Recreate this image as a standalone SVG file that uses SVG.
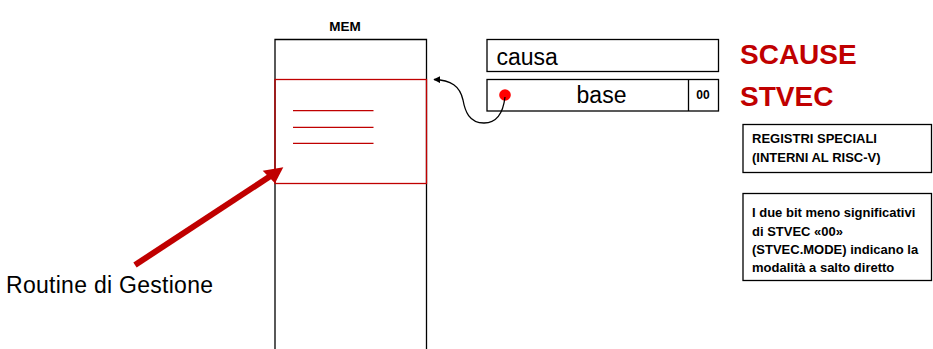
<svg xmlns="http://www.w3.org/2000/svg" width="933" height="349" viewBox="0 0 933 349">
  <style>
    .box { fill: #ffffff; stroke: #000000; stroke-width: 1.3; }
    .red { fill: none; stroke: #c00000; stroke-width: 1.3; }
    .sans { font-family: "Liberation Sans", Arial, sans-serif; }
    .reg { font-size: 23px; fill: #000000; }
    .title { font-size: 28px; font-weight: bold; fill: #c00000; }
    .note { font-size: 13px; font-weight: bold; fill: #000000; }
  </style>
  <defs>
    <marker id="headBlack" viewBox="0 0 10 10" refX="9" refY="5" markerWidth="7" markerHeight="7" orient="auto" markerUnits="userSpaceOnUse">
      <path d="M0,0 L10,5 L0,10 z" fill="#000000"/>
    </marker>
  </defs>

  <rect width="933" height="349" fill="#ffffff"/>

  <!-- memory column -->
  <g id="mem">
    <text class="sans" x="345" y="30.5" font-size="13.5" font-weight="bold" text-anchor="middle">MEM</text>
    <path d="M275,352 L275,39.5 L426.5,39.5 L426.5,352" fill="#ffffff" stroke="#000000" stroke-width="1.3"/>
    <rect class="red" x="275" y="79.5" width="151.5" height="104"/>
    <line class="red" x1="293" y1="110.7" x2="373.5" y2="110.7"/>
    <line class="red" x1="293" y1="127.3" x2="373.5" y2="127.3"/>
    <line class="red" x1="293" y1="143.3" x2="373.5" y2="143.3"/>
  </g>

  <!-- SCAUSE register -->
  <g id="scause">
    <rect class="box" x="487" y="39.5" width="231.5" height="32"/>
    <text class="sans reg" x="496.5" y="65">causa</text>
    <text class="sans title" x="740" y="63.5">SCAUSE</text>
  </g>

  <!-- STVEC register -->
  <g id="stvec">
    <rect class="box" x="487" y="79.5" width="231.5" height="31.5"/>
    <line x1="688.5" y1="79.5" x2="688.5" y2="111" stroke="#000000" stroke-width="1.3"/>
    <text class="sans reg" x="601.5" y="102.5" text-anchor="middle">base</text>
    <text class="sans" x="703" y="98.5" font-size="12" font-weight="bold" text-anchor="middle">00</text>
    <circle cx="505" cy="95" r="5.8" fill="#ff0000"/>
    <text class="sans title" x="740" y="106">STVEC</text>
  </g>

  <!-- note boxes -->
  <g id="note-registri">
    <rect class="box" x="743" y="124.5" width="188.5" height="48"/>
    <text class="sans note" x="752" y="143.3">REGISTRI SPECIALI</text>
    <text class="sans note" x="752" y="161.7">(INTERNI AL RISC-V)</text>
  </g>

  <g id="note-mode">
    <rect class="box" x="743" y="193.5" width="188.5" height="87"/>
    <text class="sans note" x="752" y="216.7">I due bit meno significativi</text>
    <text class="sans note" x="752" y="235.5">di STVEC «00»</text>
    <text class="sans note" x="752" y="254.3">(STVEC.MODE) indicano la</text>
    <text class="sans note" x="752" y="272">modalità a salto diretto</text>
  </g>

  <!-- handler label -->
  <g id="routine">
    <text class="sans" x="6" y="293" font-size="23" textLength="207" fill="#000000">Routine di Gestione</text>
  </g>

  <!-- connectors -->
  <g id="connectors">
    <path d="M505,97 C503,114 496,123 484,123 C469,123 465,111 463,100 C460,86 451,80 434,79.5" fill="none" stroke="#000000" stroke-width="1.3" marker-end="url(#headBlack)"/>
    <line x1="135" y1="265" x2="272" y2="175" stroke="#c00000" stroke-width="6"/>
    <polygon points="283.3,167.3 262.7,170.7 275,183.3" fill="#c00000"/>
  </g>
</svg>
